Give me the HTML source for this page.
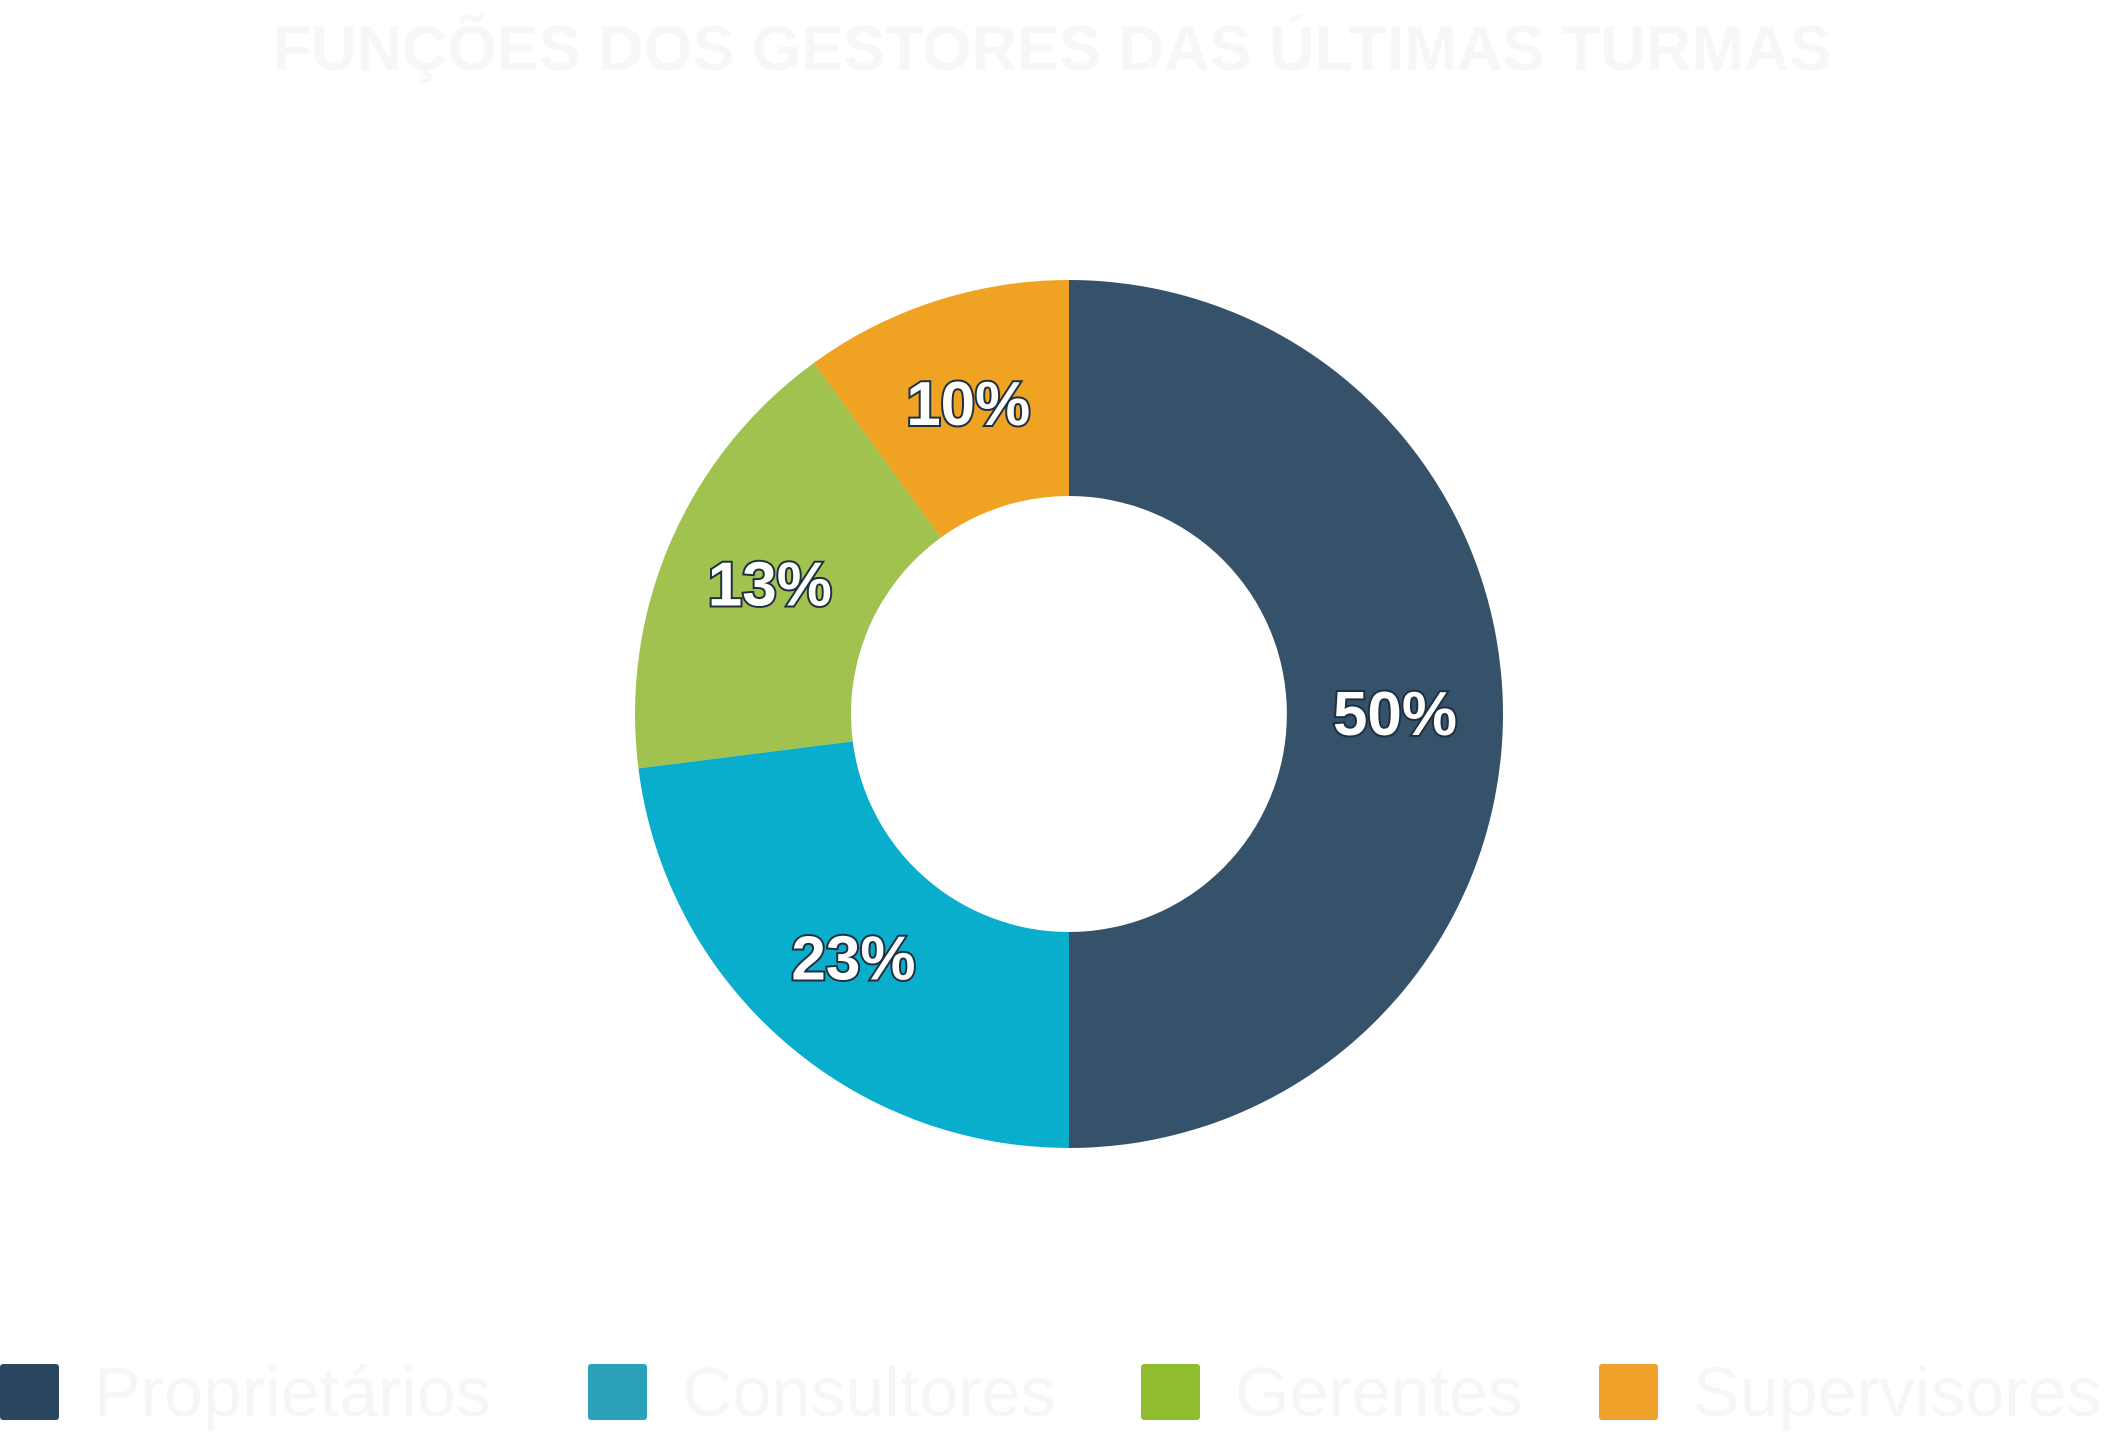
<!DOCTYPE html>
<html><head><meta charset="utf-8"><style>
html,body{margin:0;padding:0;background:#fff;width:2105px;height:1440px;overflow:hidden}
svg{display:block}
</style></head><body>
<svg id="chart" width="2105" height="1440" viewBox="0 0 2105 1440" xmlns="http://www.w3.org/2000/svg">
<text x="1052" y="70" text-anchor="middle" font-family="Liberation Sans, sans-serif" font-weight="bold" font-size="63" fill="#f7f7f7">FUNÇÕES DOS GESTORES DAS ÚLTIMAS TURMAS</text>
<g id="slices"></g>
<g id="labels"></g>
<g id="legend"></g>
</svg>
<script>
const categories = ['Proprietários','Consultores','Gerentes','Supervisores'];
const values = [50, 23, 17, 10];
const valueLabels = ['50%','23%','13%','10%'];
const colors = ['#36526a','#0aaecd','#a1c24e','#f0a223'];
const legendColors = ['#2b4661','#2aa1b9','#90bd2f','#f0a12a'];

const NS='http://www.w3.org/2000/svg';
const cx=1069, cy=714, R=434, r=218;
const total=values.reduce((a,b)=>a+b,0);
const angle=v=>v/total*2*Math.PI;
const pt=(a,rad)=>[cx+rad*Math.sin(a), cy-rad*Math.cos(a)];
const sg=document.getElementById('slices'), lg=document.getElementById('labels'), leg=document.getElementById('legend');
let a0=0;
values.forEach((v,i)=>{
  const a1=a0+angle(v);
  const large=(a1-a0)>Math.PI?1:0;
  const [x0,y0]=pt(a0,R),[x1,y1]=pt(a1,R),[x2,y2]=pt(a1,r),[x3,y3]=pt(a0,r);
  const p=document.createElementNS(NS,'path');
  p.setAttribute('d',`M${x0},${y0}A${R},${R} 0 ${large} 1 ${x1},${y1}L${x2},${y2}A${r},${r} 0 ${large} 0 ${x3},${y3}Z`);
  p.setAttribute('fill',colors[i]);
  
  
  sg.appendChild(p);
  const [lx,ly]=pt((a0+a1)/2,(R+r)/2);
  const t=document.createElementNS(NS,'text');
  t.setAttribute('x',lx);t.setAttribute('y',ly+21);
  t.setAttribute('text-anchor','middle');
  t.setAttribute('font-family','Liberation Sans, sans-serif');
  t.setAttribute('font-weight','bold');
  t.setAttribute('font-size','62');
  t.setAttribute('fill','#fff');
  t.setAttribute('stroke','#1e3040');
  t.setAttribute('stroke-width','4');
  t.setAttribute('paint-order','stroke');
  t.textContent=valueLabels[i];
  
  
  lg.appendChild(t);
  a0=a1;
});
const legX=[0,588,1141,1599];
categories.forEach((c,i)=>{
  const g=document.createElementNS(NS,'g');
  
  
  const s=document.createElementNS(NS,'rect');
  s.setAttribute('x',legX[i]);s.setAttribute('y',1364);s.setAttribute('width',59);s.setAttribute('height',56);s.setAttribute('rx',3);
  s.setAttribute('fill',legendColors[i]);
  
  
  const t=document.createElementNS(NS,'text');
  t.setAttribute('x',legX[i]+94);t.setAttribute('y',1416);
  t.setAttribute('font-family','Liberation Sans, sans-serif');
  t.setAttribute('font-size','70');
  t.setAttribute('fill','#f6f6f6');
  t.textContent=c;
  
  
  g.appendChild(s);g.appendChild(t);leg.appendChild(g);
});
</script>
</body></html>
